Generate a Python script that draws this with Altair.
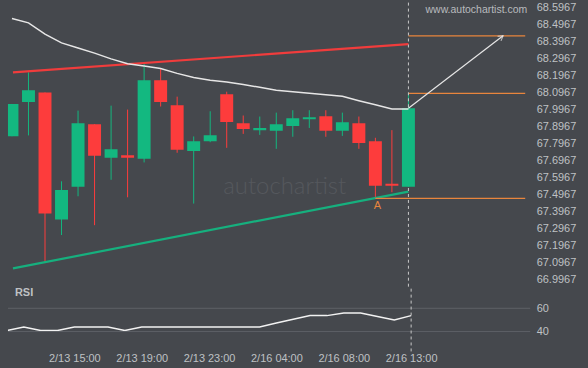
import altair as alt
import pandas as pd

# ---- data ----
candle_idx = list(range(25))
opens  = [67.840, 68.042, 68.098, 67.350, 67.543, 67.911, 67.713, 67.729, 67.707, 68.169,
          68.022, 67.754, 67.811, 68.087, 67.917, 67.876, 67.872, 67.901, 67.940, 67.958,
          67.872, 67.917, 67.811, 67.561, 67.543]
highs  = [68.030, 68.216, 68.098, 67.575, 67.991, 67.911, 68.020, 67.997, 68.268, 68.241,
          68.073, 67.839, 67.987, 68.102, 67.962, 67.956, 67.979, 67.993, 67.993, 67.993,
          67.979, 67.956, 67.831, 67.876, 68.093]
lows   = [67.840, 67.845, 67.102, 67.259, 67.487, 67.317, 67.584, 67.481, 67.686, 68.015,
          67.743, 67.444, 67.805, 67.772, 67.854, 67.848, 67.766, 67.837, 67.889, 67.837,
          67.842, 67.766, 67.483, 67.511, 67.543]
closes = [68.030, 68.110, 67.385, 67.524, 67.917, 67.725, 67.764, 67.713, 68.169, 68.042,
          67.760, 67.811, 67.846, 67.924, 67.882, 67.888, 67.911, 67.946, 67.952, 67.872,
          67.923, 67.801, 67.549, 67.549, 68.005]
ma_line = [68.533, 68.507, 68.441, 68.389, 68.359, 68.329, 68.295, 68.266, 68.253, 68.239,
           68.210, 68.186, 68.170, 68.159, 68.144, 68.128, 68.111, 68.102, 68.093, 68.084,
           68.075, 68.049, 68.025, 68.001, 68.001]
rsi = [40.9, 44.0, 40.9, 40.9, 44.0, 44.0, 44.0, 40.9, 44.0, 44.0,
       44.0, 44.0, 44.0, 44.0, 44.0, 44.0, 47.4, 50.6, 53.7, 53.7,
       56.0, 56.0, 53.0, 50.0, 53.7]

tick_idx = [4, 8, 12, 16, 20, 24]
tick_labels = ["2/13 15:00", "2/13 19:00", "2/13 23:00", "2/16 04:00", "2/16 08:00", "2/16 13:00"]
price_ticks = [66.9967, 67.0967, 67.1967, 67.2967, 67.3967, 67.4967, 67.5967, 67.6967, 67.7967,
               67.8967, 67.9967, 68.0967, 68.1967, 68.2967, 68.3967, 68.4967, 68.5967]
rsi_levels = [40, 60]

# trend lines / pattern
res_x = [0.06, 24]
res_y = [68.216, 68.382]
sup_x = [0.06, 24]
sup_y = [67.063, 67.514]
arrow_x = [24, 29.73]
arrow_y = [68.005, 68.431]
target_levels = [68.431, 68.092, 67.475]
target_start = [24, 24, 22]
point_a = {"x": 22, "y": 67.475, "label": "A"}
now_idx = 24

X_DOMAIN = [0.06, 31.07]
P_DOMAIN = [66.9554, 68.626]
R_DOMAIN = [22.9, 78.6]
W, H1, H2 = 524, 285, 65

BG = "#45484d"
GREEN = "#13b880"
RED = "#fd3c3c"
ORANGE = "#e8853d"
TXT = "#bfc1c4"
FONT = "Liberation Sans"

df = pd.DataFrame({"i": candle_idx, "open": opens, "high": highs, "low": lows,
                   "close": closes, "ma": ma_line, "rsi": rsi})
df["dir"] = ["up" if c >= o else "down" for o, c in zip(opens, closes)]

xs = alt.Scale(domain=X_DOMAIN, nice=False, zero=False)
ps = alt.Scale(domain=P_DOMAIN, nice=False, zero=False)
rs = alt.Scale(domain=R_DOMAIN, nice=False, zero=False)
col = alt.Color("dir:N", scale=alt.Scale(domain=["up", "down"], range=[GREEN, RED]), legend=None)

label_expr = " : ".join(f"datum.value == {i} ? '{l}'" for i, l in zip(tick_idx, tick_labels)) + " : ''"

y_axis = alt.Axis(orient="right", values=price_ticks, tickCount=len(price_ticks), format=".4f",
                  grid=False, domain=False, ticks=False, labelPadding=6, labelColor=TXT,
                  labelFontSize=11, labelFont=FONT, labelOverlap=False, title=None)


def X(f):
    return alt.X(f, scale=xs, axis=None)


def YP(f):
    return alt.Y(f, scale=ps)


base = alt.Chart(df)
wicks = base.mark_rule(strokeWidth=1, clip=True).encode(
    x=X("i:Q"), y=alt.Y("low:Q", scale=ps, axis=y_axis), y2="high:Q", color=col)
bodies = base.mark_bar(size=13, clip=True).encode(
    x=X("i:Q"), y=YP("open:Q"), y2="close:Q", color=col)
ma = base.mark_line(color="#e6e6e6", strokeWidth=1.5, clip=True).encode(
    x=X("i:Q"), y=YP("ma:Q"))

res = alt.Chart(pd.DataFrame({"x": res_x, "y": res_y})).mark_line(color="#f03c3c", strokeWidth=2.2).encode(
    x=X("x:Q"), y=YP("y:Q"))
sup = alt.Chart(pd.DataFrame({"x": sup_x, "y": sup_y})).mark_line(color="#16b07e", strokeWidth=2.2).encode(
    x=X("x:Q"), y=YP("y:Q"))

tgt_df = pd.DataFrame({"x": target_start, "x2": [X_DOMAIN[1]] * 3, "y": target_levels})
targets = alt.Chart(tgt_df).mark_rule(color=ORANGE, strokeWidth=1.2).encode(
    x=X("x:Q"), x2="x2:Q", y=YP("y:Q"))

arr_df = pd.DataFrame({"x": arrow_x, "y": arrow_y})
arrow = alt.Chart(arr_df).mark_line(color="#e6e6e6", strokeWidth=1.2).encode(
    x=X("x:Q"), y=YP("y:Q"))
head = alt.Chart(arr_df.iloc[[1]]).mark_point(
    shape="M-1,-0.6L0,0L-1,0.6", filled=False, size=90, stroke="#e6e6e6", strokeWidth=1.2, angle=323
).encode(x=X("x:Q"), y=YP("y:Q"))

a_lbl = alt.Chart(pd.DataFrame([point_a])).mark_text(
    color=ORANGE, fontSize=11, font=FONT, baseline="top", dy=2, dx=2).encode(
    x=X("x:Q"), y=YP("y:Q"), text="label:N")

vtop_df = pd.DataFrame({"x": [now_idx], "lo": [P_DOMAIN[0]], "hi": [P_DOMAIN[1]]})
vline_top = alt.Chart(vtop_df).mark_rule(color="#c8c8c8", strokeDash=[3, 3], strokeWidth=1).encode(
    x=X("x:Q"), y=YP("lo:Q"), y2="hi:Q")

site = alt.Chart(pd.DataFrame({"t": ["www.autochartist.com"]})).mark_text(
    color="#b8babd", fontSize=10.5, font=FONT, align="right", baseline="middle"
).encode(x=alt.value(521), y=alt.value(7), text="t:N")
wm = alt.Chart(pd.DataFrame({"t": ["autochartist"]})).mark_text(
    color="#55585d", fontSize=24, font="Lato", fontWeight=300, align="left", baseline="middle"
).encode(x=alt.value(216), y=alt.value(185), text="t:N")

top = alt.layer(wicks, res, sup, targets, vline_top, bodies, ma, arrow, head, a_lbl, site, wm).properties(
    width=W, height=H1)

# ---- RSI panel ----
rsi_line = base.mark_line(color="#f2f2f2", strokeWidth=1.5, clip=True).encode(
    x=alt.X("i:Q", scale=xs, axis=alt.Axis(values=tick_idx, tickCount=len(tick_idx), labelExpr=label_expr,
                                          grid=False, domain=False, ticks=False, labelPadding=1,
                                          labelColor=TXT, labelFontSize=11, labelFont=FONT, title=None,
                                          labelOverlap=False)),
    y=alt.Y("rsi:Q", scale=rs, axis=alt.Axis(orient="right", values=rsi_levels, grid=False, domain=False,
                                             ticks=False, labelPadding=6, labelColor=TXT, labelFontSize=11,
                                             labelFont=FONT, title=None)))
lvl = alt.Chart(pd.DataFrame({"v": rsi_levels})).mark_rule(color="#5d6065", strokeWidth=1).encode(
    y=alt.Y("v:Q", scale=rs), x=alt.value(0), x2=alt.value(W))
vbot_df = pd.DataFrame({"x": [now_idx], "lo": [R_DOMAIN[0]], "hi": [R_DOMAIN[1]]})
vline_bot = alt.Chart(vbot_df).mark_rule(color="#c8c8c8", strokeDash=[3, 3], strokeWidth=1).encode(
    x=alt.X("x:Q", scale=xs), y=alt.Y("lo:Q", scale=rs), y2="hi:Q")
rsi_txt = alt.Chart(pd.DataFrame({"t": ["RSI"]})).mark_text(
    color=TXT, fontSize=11, font=FONT, fontWeight="bold", align="left", baseline="middle"
).encode(x=alt.value(7), y=alt.value(6), text="t:N")

bottom = alt.layer(rsi_line, lvl, vline_bot, rsi_txt).properties(width=W, height=H2)

chart = alt.vconcat(top, bottom, spacing=0, bounds="flush").configure(
    background=BG, padding={"left": 7, "top": 0, "right": 12, "bottom": 8}
).configure_view(stroke=None).configure_axis(labelOverlap=False)

chart.save("out.html", embed_options={"renderer": "svg", "actions": False})
